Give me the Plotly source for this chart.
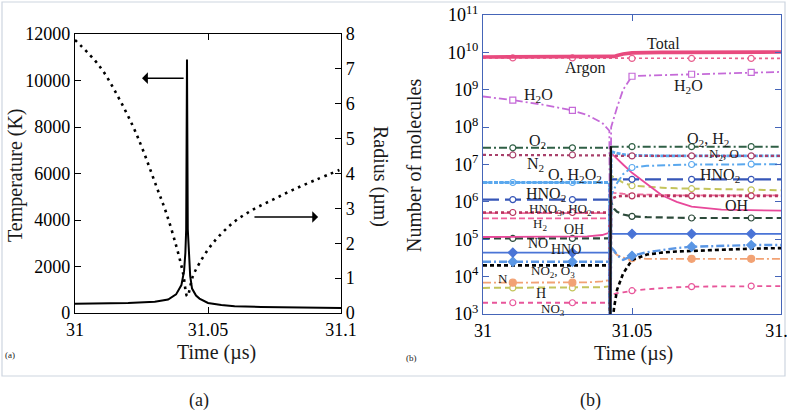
import plotly.graph_objects as go

FONT = "Liberation Serif"
W, H = 787, 419

# ---------------- Panel (a): temperature and radius ----------------
temp_t = [31.0, 31.01, 31.02, 31.03, 31.035, 31.038, 31.040, 31.041, 31.0415, 31.0418,
          31.0421, 31.0424, 31.0428, 31.0433, 31.044, 31.0455, 31.0468, 31.05, 31.055,
          31.06, 31.07, 31.08, 31.09, 31.1]
temp_K = [400, 410, 430, 480, 580, 800, 1200, 1800, 2600, 3600,
          10900, 3600, 2400, 1600, 1050, 750, 620, 430, 340,
          290, 260, 240, 230, 220]

rad_t = [31.0, 31.0093, 31.0162, 31.0218, 31.0255, 31.0306, 31.0343, 31.0381, 31.0406,
         31.0422, 31.0443, 31.0468, 31.0518, 31.0593, 31.0668, 31.0744, 31.0819,
         31.0906, 31.0994]
rad_um = [7.83, 7.07, 6.2, 5.35, 4.68, 3.63, 2.87, 1.91, 1.15,
          0.48, 1.05, 1.43, 2.0, 2.58, 2.96, 3.25, 3.53,
          3.82, 4.1]

a_xticks = [31, 31.05, 31.1]
a_xticktext = ["31", "31.05", "31.1"]
temp_ticks = [0, 2000, 4000, 6000, 8000, 10000, 12000]
rad_ticks = [0, 1, 2, 3, 4, 5, 6, 7, 8]

# ---------------- Panel (b): number of molecules ----------------
tL = [31.0, 31.01, 31.02, 31.03, 31.035, 31.04, 31.0424]
tD = 31.0427
tR = [31.043, 31.044, 31.045, 31.047, 31.05, 31.055, 31.06, 31.065, 31.07, 31.08, 31.09, 31.1]
MARK_L = [1, 3]
MARK_R = [4, 8, 10]

total_L = [7.5e9, 7.5e9, 7.4e9, 7.4e9, 7.4e9, 7.5e9, 7.6e9]
total_R = [7.6e9, 7.8e9, 8.2e9, 9.0e9, 9.7e9, 1.0e10, 1.0e10, 1.0e10, 1.0e10, 1.0e10, 1.0e10, 1.02e10]
argon_L = [7.1e9, 7.1e9, 7.1e9, 7.1e9, 7.1e9, 7.1e9, 7.1e9]
argon_R = [7.0e9, 6.9e9, 6.9e9, 6.9e9, 6.9e9, 6.9e9, 6.9e9, 6.9e9, 6.9e9, 6.9e9, 6.9e9, 6.9e9]
h2o_L = [6.6e8, 5.3e8, 4.0e8, 2.8e8, 2.1e8, 1.3e8, 8.0e7]
h2o_R = [1.0e8, 1.9e8, 3.4e8, 1.0e9, 2.3e9, 2.4e9, 2.45e9, 2.5e9, 2.6e9, 2.75e9, 2.9e9, 3.0e9]
o2_L = [2.8e7, 2.8e7, 2.8e7, 2.8e7, 2.8e7, 2.8e7, 2.8e7]
o2_R = [3.0e7, 3.0e7, 3.0e7, 3.0e7, 3.0e7, 3.0e7, 3.0e7, 3.0e7, 3.0e7, 3.0e7, 3.0e7, 3.0e7]
h2rise_t = [31.0427, 31.0429, 31.0432]
h2rise_v = [1.0e2, 2.9e7, 3.0e7]
n2_L = [1.8e7, 1.8e7, 1.8e7, 1.8e7, 1.8e7, 1.8e7, 1.8e7]
n2_R = [1.8e7, 1.75e7, 1.7e7, 1.7e7, 1.7e7, 1.7e7, 1.7e7, 1.7e7, 1.7e7, 1.7e7, 1.7e7, 1.7e7]
o_L = [3.3e6, 3.3e6, 3.3e6, 3.3e6, 3.3e6, 3.3e6, 3.3e6]
o_R = [2.2e7, 2.1e7, 2.0e7, 1.85e7, 1.75e7, 1.7e7, 1.7e7, 1.7e7, 1.7e7, 1.7e7, 1.7e7, 1.7e7]
h2o2_L = [3.3e6, 3.3e6, 3.3e6, 3.3e6, 3.3e6, 3.3e6, 3.3e6]
h2o2_R = [1.5e6, 2.2e6, 3.2e6, 5.5e6, 8.3e6, 9.2e6, 9.6e6, 9.8e6, 1.0e7, 1.0e7, 1.02e7, 1.02e7]
hno2_L = [1.15e6, 1.15e6, 1.15e6, 1.15e6, 1.15e6, 1.15e6, 1.15e6]
hno2_R = [4.0e6, 4.0e6, 4.0e6, 4.0e6, 4.0e6, 4.0e6, 4.0e6, 4.0e6, 4.0e6, 4.0e6, 4.0e6, 4.0e6]
h_L = [5.0e3, 5.0e3, 5.0e3, 5.0e3, 5.0e3, 5.2e3, 5.5e3]
h_R = [5.0e6, 4.5e6, 4.0e6, 3.3e6, 2.7e6, 2.5e6, 2.4e6, 2.3e6, 2.25e6, 2.2e6, 2.1e6, 2.05e6]
ho2_L = [5.0e5, 5.0e5, 5.0e5, 5.0e5, 5.0e5, 5.0e5, 5.0e5]
ho2_R = [1.8e6, 1.75e6, 1.7e6, 1.65e6, 1.6e6, 1.55e6, 1.5e6, 1.5e6, 1.5e6, 1.5e6, 1.5e6, 1.5e6]
hno3_L = [5.2e5, 5.2e5, 5.2e5, 5.2e5, 5.2e5, 5.2e5, 5.2e5]
hno3_R = [1.2e6, 1.3e6, 1.4e6, 1.45e6, 1.45e6, 1.45e6, 1.45e6, 1.45e6, 1.45e6, 1.45e6, 1.45e6, 1.45e6]
h2_L = [3.6e5, 3.6e5, 3.6e5, 3.6e5, 3.6e5, 3.6e5, 3.6e5]
h2_R = []
oh_L = [1.15e5, 1.15e5, 1.15e5, 1.15e5, 1.2e5, 1.3e5, 1.5e5]
oh_R = [2.0e7, 1.7e7, 1.4e7, 1.0e7, 6.0e6, 3.0e6, 1.5e6, 1.0e6, 7.5e5, 6.2e5, 5.9e5, 5.8e5]
no_L = [1.05e5, 1.05e5, 1.05e5, 1.05e5, 1.05e5, 1.05e5, 1.05e5]
no_R = [1.0e6, 6.5e5, 5.4e5, 4.6e5, 4.1e5, 3.9e5, 3.8e5, 3.7e5, 3.7e5, 3.7e5, 3.7e5, 3.7e5]
hno_L = [4.4e4, 4.4e4, 4.4e4, 4.4e4, 4.4e4, 4.4e4, 4.4e4]
hno_R = [1.4e5, 1.4e5, 1.4e5, 1.4e5, 1.4e5, 1.4e5, 1.4e5, 1.4e5, 1.4e5, 1.4e5, 1.4e5, 1.4e5]
o3_L = [2.5e4, 2.5e4, 2.5e4, 2.5e4, 2.5e4, 2.5e4, 2.5e4]
o3_R = [6.0e4, 5.0e4, 3.8e4, 2.8e4, 3.6e4, 4.5e4, 5.2e4, 5.8e4, 6.3e4, 6.7e4, 7.0e4, 7.0e4]
no2_L = [2.0e4, 2.0e4, 2.0e4, 2.0e4, 2.0e4, 2.0e4, 2.0e4]
no2_R = [3.0e2, 1.5e3, 4.5e3, 1.2e4, 2.8e4, 3.9e4, 4.4e4, 4.7e4, 4.9e4, 5.3e4, 5.6e4, 5.8e4]
n_L = [6.9e3, 6.9e3, 6.9e3, 6.9e3, 7.0e3, 7.5e3, 8.0e3]
n_R = [5.5e4, 4.5e4, 3.8e4, 3.2e4, 3.1e4, 3.0e4, 3.0e4, 3.0e4, 3.0e4, 3.0e4, 3.0e4, 3.0e4]
no3_L = [2.0e3, 2.0e3, 2.0e3, 2.0e3, 2.0e3, 2.0e3, 2.0e3]
no3_R = [3.2e3, 3.4e3, 3.6e3, 3.8e3, 4.2e3, 4.6e3, 5.0e3, 5.2e3, 5.4e3, 5.5e3, 5.6e3, 5.6e3]
DIP = 1.0e2

b_yticks = [1e3, 1e4, 1e5, 1e6, 1e7, 1e8, 1e9, 1e10, 1e11]
b_yticktext = ["10<sup>3</sup>", "10<sup>4</sup>", "10<sup>5</sup>", "10<sup>6</sup>",
               "10<sup>7</sup>", "10<sup>8</sup>", "10<sup>9</sup>", "10<sup>10</sup>",
               "10<sup>11</sup>"]

fig = go.Figure()

# panel (a) curves
fig.add_trace(go.Scatter(x=rad_t, y=rad_um, mode="lines", xaxis="x", yaxis="y2",
                         line=dict(color="black", width=2.6, dash="2.6px,4.6px", shape="spline"),
                         showlegend=False, hoverinfo="skip"))
fig.add_trace(go.Scatter(x=temp_t, y=temp_K, mode="lines", xaxis="x", yaxis="y",
                         line=dict(color="black", width=2), showlegend=False, hoverinfo="skip"))


def add_species(L, dip, R, color, dash, width, symbol=None, filled=False, msize=6):
    xs = list(tL) + ([tD] if dip is not None else []) + list(tR[:len(R)])
    ys = list(L) + ([dip] if dip is not None else []) + list(R)
    fig.add_trace(go.Scatter(x=xs, y=ys, mode="lines", xaxis="x2", yaxis="y3",
                             line=dict(color=color, width=width, dash=dash),
                             showlegend=False, hoverinfo="skip"))
    if symbol:
        mx = [tL[i] for i in MARK_L] + [tR[i] for i in MARK_R if i < len(R)]
        my = [L[i] for i in MARK_L] + [R[i] for i in MARK_R if i < len(R)]
        fig.add_trace(go.Scatter(x=mx, y=my, mode="markers", xaxis="x2", yaxis="y3",
                                 marker=dict(symbol=symbol, size=msize,
                                             color=color if filled else "white",
                                             line=dict(color=color, width=1.2)),
                                 showlegend=False, hoverinfo="skip"))


add_species(no3_L, DIP, no3_R, "#e8559a", "5px,4px", 1.8, "circle")
add_species(h_L, DIP, h_R, "#c4c45c", "7px,4px", 2.0, "circle")
add_species(n_L, DIP, n_R, "#f2a274", "8px,3px,2px,3px", 1.8, "circle", True, 7)
add_species(no2_L, DIP, no2_R, "black", "4px,3px", 2.6)
add_species(o3_L, DIP, o3_R, "#5a96e4", "8px,3px,2px,3px", 2.4, "diamond", True, 7)
add_species(hno_L, DIP, hno_R, "#4a74d6", "solid", 1.8, "diamond", True, 7)
add_species(no_L, DIP, no_R, "#2c4a3a", "7px,4px", 2.2, "circle")
add_species(oh_L, DIP, oh_R, "#e8489a", "solid", 1.8)
add_species(h2_L, DIP, h2_R, "#f0609a", "6px,3px", 1.8)
add_species(ho2_L, DIP, ho2_R, "#f06a9c", "6px,3px", 1.8)
add_species(hno3_L, DIP, hno3_R, "#b8345e", "dot", 2.6, "circle")
add_species(hno2_L, DIP, hno2_R, "#3656b8", "16px,6px", 2.4, "circle")
add_species(h2o2_L, DIP, h2o2_R, "#5aa8ee", "8px,3px,2px,3px", 2.0, "circle")
add_species(o_L, DIP, o_R, "#5aa8ee", "4px,1.5px", 2.8)
add_species(n2_L, None, n2_R, "#a8406a", "dot", 2.2, "circle")
add_species(o2_L, None, o2_R, "#2f5f45", "8px,3px,2px,3px", 2.0, "circle")
add_species(h2o_L, DIP, h2o_R, "#c56ad8", "8px,3px,2px,3px", 1.8, "square")
add_species(argon_L, None, argon_R, "#e8608e", "dot", 1.6, "circle")
add_species(total_L, None, total_R, "#e84a7e", "solid", 3.6)
fig.add_trace(go.Scatter(x=h2rise_t, y=h2rise_v, mode="lines", xaxis="x2", yaxis="y3",
                         line=dict(color="#111111", width=2.4), showlegend=False, hoverinfo="skip"))


def px(x):
    return x / W


def py(y):
    return 1 - y / H


tickfont = dict(family=FONT, size=18, color="black")
BLUE = "#4565b8"
common = dict(showgrid=False, zeroline=False, automargin=False, tickfont=tickfont,
              ticks="inside", ticklen=6, showline=True, ticklabeloverflow="allow")

fig.update_layout(
    template="none",
    width=W, height=H, margin=dict(l=0, r=0, t=0, b=0, pad=0),
    paper_bgcolor="white", plot_bgcolor="white",
    font=dict(family=FONT, color="black"),
    xaxis=dict(domain=[px(75), px(341)], range=[31, 31.1], tickvals=a_xticks, ticktext=a_xticktext,
               tickcolor="black", linecolor="black", linewidth=1.2, mirror="ticks",
               anchor="y", **common),
    yaxis=dict(domain=[py(313), py(34)], range=[0, 12000], tickvals=temp_ticks, tickformat="d",
               tickcolor="black", linecolor="black", linewidth=1.2, anchor="x", **common),
    yaxis2=dict(domain=[py(313), py(34)], range=[0, 8], tickvals=rad_ticks, overlaying="y",
                side="right", tickcolor="black", linecolor="black", linewidth=1.2,
                anchor="x", **common),
    xaxis2=dict(domain=[px(483), px(781)], range=[31, 31.1], tickvals=a_xticks, ticktext=a_xticktext,
                tickcolor=BLUE, linecolor=BLUE, linewidth=1.4, mirror="ticks",
                anchor="y3", **common),
    yaxis3=dict(domain=[py(314), py(15)], type="log", range=[3, 11], tickvals=b_yticks,
                ticktext=b_yticktext, tickcolor=BLUE, linecolor=BLUE, linewidth=1.4,
                mirror="ticks", anchor="x2", **common),
)

ann = []


def label(x, y, text, size=15, angle=0, xanchor="center"):
    ann.append(dict(x=px(x), y=py(y), xref="paper", yref="paper", text=text, showarrow=False,
                    textangle=angle, xanchor=xanchor, yanchor="middle",
                    font=dict(family=FONT, size=size, color="#1a1a1a")))


# axis titles
label(15, 175, "Temperature (K)", 20, -90)
label(381, 176, "Radius (µm)", 20, 90)
label(216, 352, "Time (µs)", 20)
label(414, 166, "Number of molecules", 20, -90)
label(633, 353, "Time (µs)", 20)
label(10, 355, "(a)", 9)
label(411, 358, "(b)", 9)
label(199, 400, "(a)", 18)
label(590, 400, "(b)", 18)

# species labels in panel (b)
label(663, 43, "Total", 16)
label(585, 68, "Argon", 16)
label(538, 96, "H<sub>2</sub>O", 16)
label(688, 86, "H<sub>2</sub>O", 16)
label(537, 142, "O<sub>2</sub>", 16)
label(708, 139, "O<sub>2</sub>, H<sub>2</sub>", 16)
label(724, 154, "N<sub>2</sub>, O", 13)
label(535, 164, "N<sub>2</sub>", 16)
label(575, 175, "O, H<sub>2</sub>O<sub>2</sub>", 16)
label(720, 175, "HNO<sub>2</sub>", 16)
label(546, 194, "HNO<sub>2</sub>", 16)
label(560, 209, "HNO<sub>3</sub>, HO<sub>2</sub>", 13)
label(540, 224, "H<sub>2</sub>", 13)
label(574, 230, "OH", 14)
label(737, 205, "OH", 16)
label(538, 243, "NO", 14)
label(566, 249, "HNO", 14)
label(553, 271, "NO<sub>2</sub>, O<sub>3</sub>", 13)
label(503, 278, "N", 13)
label(541, 293, "H", 14)
label(553, 309, "NO<sub>3</sub>", 13)

# arrows in panel (a)
ann.append(dict(x=31.0252, y=10100, ax=31.0414, ay=10100, xref="x", yref="y", axref="x", ayref="y",
                text="", showarrow=True, arrowhead=1, arrowsize=1.3, arrowwidth=1.5,
                arrowcolor="black"))
ann.append(dict(x=31.0914, y=4130, ax=31.0669, ay=4130, xref="x", yref="y", axref="x", ayref="y",
                text="", showarrow=True, arrowhead=1, arrowsize=1.3, arrowwidth=1.5,
                arrowcolor="black"))

fig.update_layout(annotations=ann)
fig.add_shape(type="rect", xref="paper", yref="paper", x0=px(2), x1=px(785), y0=py(376), y1=py(2),
              line=dict(color="#cdd5e0", width=1.2), layer="below")

fig.write_html("out.html", config={"displayModeBar": False},
               post_script="document.body.style.margin='0';document.body.style.overflow='hidden';")
